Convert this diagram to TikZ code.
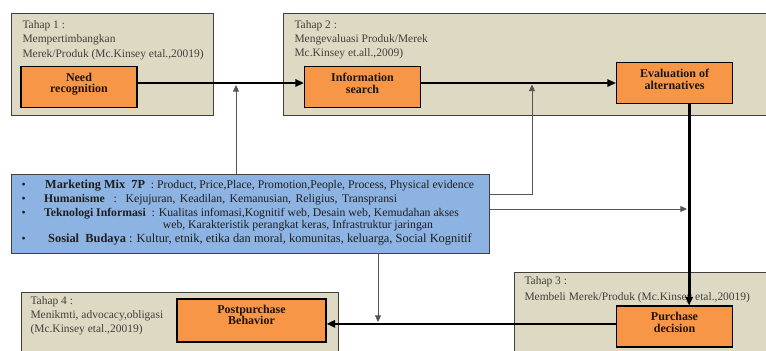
\documentclass[tikz,border=0pt]{standalone}
\usepackage{fontspec}
\setmainfont{Liberation Serif}
\usetikzlibrary{arrows.meta,positioning}

\definecolor{stagefill}{RGB}{221,217,195}
\definecolor{stepfill}{RGB}{247,150,70}
\definecolor{mixfill}{RGB}{141,179,226}
\definecolor{stagetext}{RGB}{64,64,60}
\definecolor{linkgray}{RGB}{85,85,85}

\tikzset{every picture/.style={line width=0.75pt}}
\tikzset{
	stage/.style={draw={rgb, 255:red, 64; green, 64; blue, 64}, fill=stagefill},
	stagetxt/.style={anchor=north west, inner sep=0pt, align=left, text=stagetext,
		font=\fontsize{8.6}{10}\selectfont},
	stepbox/.style={draw=black, fill=stepfill, line width=0.8pt, inner sep=0pt,
		minimum width=87pt, minimum height=30.75pt},
	steptxt/.style={inner sep=0pt, align=center, text={rgb, 255:red, 30; green, 20; blue, 10},
		font=\fontsize{9}{8.6}\selectfont\bfseries},
	flow/.style={draw=black, line width=1.7pt, -{Triangle[length=6.5pt,width=5.5pt]}},
	link/.style={draw=linkgray, line width=0.7pt, -{Triangle[length=5pt,width=4.5pt]}}
}

\begin{document}
\begin{tikzpicture}[x=0.75pt,y=0.75pt,yscale=-1,xscale=1]
	\clip (0,0) rectangle (766,350);

	%Shape: Rectangle [stage 1]
	\draw [stage] (11,13) rectangle (213,115);
	%Shape: Rectangle [stage 2]
	\draw [stage] (283,13) rectangle (780,115);
	%Shape: Rectangle [stage 3]
	\draw [stage] (514,272) rectangle (780,360);
	%Shape: Rectangle [stage 4]
	\draw [stage] (21,292) rectangle (338,360);

	% Text Node
	\node [stagetxt] (t1) at (22,20.5) {Tahap 1 :\\Mempertimbangkan\\[1.5pt]Merek/Produk (Mc.Kinsey etal.,20019)};
	% Text Node
	\node [stagetxt] (t2) at (294,20.5) {Tahap 2 :\\Mengevaluasi Produk/Merek\\[1pt]Mc.Kinsey et.all.,2009)};
	% Text Node
	\node [stagetxt] (t3) at (524,276.5) {Tahap 3 :\\[1.5pt]Membeli Merek/Produk (Mc.Kinsey etal.,20019)};
	% Text Node
	\node [stagetxt] (t4) at (30,296.5) {Tahap 4 :\\Menikmti, advocacy,obligasi\\[1pt](Mc.Kinsey etal.,20019)};

	%Shape: Step boxes
	\node [stepbox] (need) at (79,87) {};
	\node [stepbox] (info) at (362.5,87) {};
	\node [stepbox] (eval) at (674.5,83) {};
	\node [stepbox] (purchase) at (674.5,326.5) {};
	\node [stepbox, minimum width=111.75pt, minimum height=32.25pt] (post) at (251.5,320.5) {};

	% Text Node
	\node [steptxt, below=5pt of need.north] (needtxt) {Need\\recognition};
	\node [steptxt, below=5pt of info.north] (infotxt) {Information\\search};
	\node [steptxt, below=5pt of eval.north] (evaltxt) {Evaluation of\\alternatives};
	\node [steptxt, below=5pt of purchase.north] (purchasetxt) {Purchase\\decision};
	\node [steptxt, below=4.5pt of post.north] (posttxt) {Postpurchase\\Behavior};

	%Shape: Rectangle [marketing mix]
	\node [draw={rgb, 255:red, 64; green, 64; blue, 64}, fill=mixfill, inner sep=0pt,
		minimum width=358.5pt, minimum height=59.25pt] (mix) at (250,213.5) {};
	% Text Node
	\node [anchor=north west, inner sep=0pt, align=left, text={rgb, 255:red, 30; green, 30; blue, 30},
		font=\fontsize{8.8}{10.5}\selectfont] (mixtxt) at (21,179)
		{\makebox[17pt][l]{\textbullet}\hspace{0.8pt}{\fontsize{9.2}{10}\selectfont\bfseries Marketing Mix\ \ 7P}\ \ : Product, Price,Place, Promotion,People, Process, Physical evidence\\
		\makebox[17pt][l]{\textbullet}{\spaceskip=3.3pt plus 1pt\textbf{Humanisme}\ \ :\ \ Kejujuran, Keadilan, Kemanusian, Religius, Transpransi}\\
		\makebox[17pt][l]{\textbullet}\textbf{Teknologi Informasi}\ \ : Kualitas infomasi,Kognitif web, Desain web, Kemudahan akses\\[-1.5pt]
		\hspace*{106pt}web, Karakteristik perangkat keras, Infrastruktur jaringan\\
		\makebox[17pt][l]{\textbullet}\hspace{3pt}{\fontsize{9.3}{10.5}\selectfont\textbf{Sosial\ \ Budaya} : Kultur, etnik, etika dan moral, komunitas, keluarga, Social Kognitif}};

	%Straight Lines [main flow]
	\draw [flow, line width=2pt] ([yshift=-3pt]need.east) -- ([yshift=-3pt]info.west);
	\draw [flow, line width=1.3pt] ([yshift=-3pt]info.east) -- (eval.west);
	\draw [flow, line width=2pt] ([xshift=11pt]eval.south) -- ([xshift=11pt]purchase.north);
	\draw [flow] ([yshift=-2pt]purchase.west) -- ([yshift=2.5pt]post.east);

	%Straight Lines [influence links]
	\coordinate (j1) at (236,85);
	\coordinate (k2) at (532,194);
	\coordinate (j2) at (532,84.5);
	\coordinate (j3) at (687,209);
	\coordinate (j4) at (378,322);
	\draw [link] (j1 |- mix.north) -- (j1);
	\draw [link] (mix.east |- k2) -- (k2) -- (j2);
	\draw [link] (mix.east |- j3) -- (j3);
	\draw [link] (j4 |- mix.south) -- (j4);

\end{tikzpicture}
\end{document}
